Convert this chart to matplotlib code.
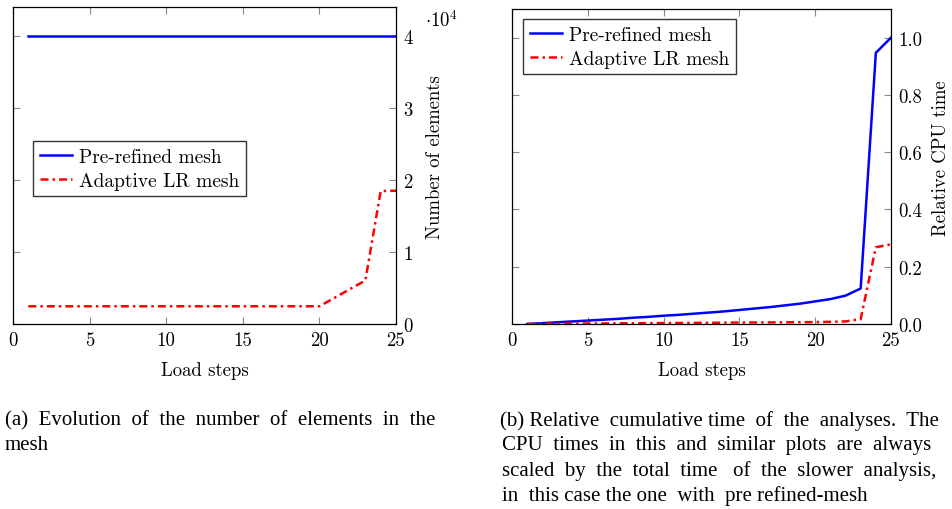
import matplotlib
matplotlib.use('Agg')
import matplotlib.pyplot as plt
from matplotlib.ticker import FixedLocator, FixedFormatter

plt.rcParams.update({'font.family': 'serif'})
plt.rcParams.update({'font.serif': ['cmr10', 'DejaVu Serif']})
plt.rcParams.update({'mathtext.fontset': 'cm'})
plt.rcParams.update({'axes.formatter.use_mathtext': True})
plt.rcParams.update({'font.size': 13.5})

# load steps
steps = list(range(1, 26))

# (a) number of elements
elems_prerefined = [40000] * 25
elems_adaptive = [2460] * 20 + [3650, 4850, 6040, 18450, 18500]

# (b) relative cumulative CPU time
cpu_prerefined = [0.000, 0.003, 0.006, 0.009, 0.012, 0.015, 0.018, 0.022, 0.025, 0.029,
                  0.032, 0.036, 0.040, 0.044, 0.049, 0.054, 0.059, 0.065, 0.071, 0.079,
                  0.087, 0.099, 0.124, 0.947, 1.000]
cpu_adaptive = [0.000, 0.0005, 0.001, 0.0013, 0.0016, 0.002, 0.0023, 0.0026, 0.003, 0.0033,
                0.0036, 0.004, 0.0043, 0.0046, 0.005, 0.0053, 0.0056, 0.006, 0.0063, 0.0067,
                0.0075, 0.009, 0.017, 0.268, 0.278]

xticks = [0, 5, 10, 15, 20, 25]
elem_ticks = [0, 10000, 20000, 30000, 40000]
elem_ticklabels = ['0', '1', '2', '3', '4']
cpu_ticks = [0.0, 0.2, 0.4, 0.6, 0.8, 1.0]
cpu_ticklabels = ['0.0', '0.2', '0.4', '0.6', '0.8', '1.0']

W, H = 953, 510
fig = plt.figure(figsize=(W / 100, H / 100), dpi=100)


def frac(x0, y0, x1, y1):
    return [x0 / W, 1 - y1 / H, (x1 - x0) / W, (y1 - y0) / H]


def style_axes(ax):
    ax.yaxis.tick_right()
    ax.yaxis.set_label_position('right')
    ax.tick_params(direction='in', length=5, width=0.8, color='#888888',
                   top=True, bottom=True, left=True, right=True,
                   labelleft=False, labelright=True, labelsize=13.5, pad=5)
    for s in ax.spines.values():
        s.set_linewidth(0.9)


dashdot = (0, (3.2, 1.6, 1, 1.6))
leg_kw = dict(frameon=True, fancybox=False, edgecolor='#333333', framealpha=1,
              fontsize=14, handlelength=1.65, borderpad=0.35, labelspacing=0.3,
              handletextpad=0.35, borderaxespad=0)

ax1 = fig.add_axes(frac(13, 8, 396, 325))
ax1.plot(steps, elems_prerefined, color='blue', lw=1.8, label='Pre-refined mesh')
ax1.plot(steps, elems_adaptive, color='red', lw=1.8, ls=dashdot, label='Adaptive LR mesh')
ax1.set_xlim(0, 25)
ax1.set_ylim(0, 44000)
ax1.xaxis.set_major_locator(FixedLocator(xticks))
ax1.xaxis.set_major_formatter(FixedFormatter([str(t) for t in xticks]))
ax1.yaxis.set_major_locator(FixedLocator(elem_ticks))
ax1.yaxis.set_major_formatter(FixedFormatter(elem_ticklabels))
style_axes(ax1)
ax1.set_xlabel('Load steps', labelpad=9)
ax1.set_ylabel('Number of elements', labelpad=10)
ax1.yaxis.set_label_coords(1.078, 0.53)
fig.text(425 / W, 1 - 27 / H, r'$\cdot 10^4$', fontsize=13.5, ha='left', va='baseline')
ax1.legend(loc='upper left', bbox_to_anchor=((33 - 13) / 383, (325 - 142) / 317), **leg_kw)

ax2 = fig.add_axes(frac(512, 10, 891, 325))
ax2.plot(steps, cpu_prerefined, color='blue', lw=1.8, label='Pre-refined mesh')
ax2.plot(steps, cpu_adaptive, color='red', lw=1.8, ls=dashdot, label='Adaptive LR mesh')
ax2.set_xlim(0, 25)
ax2.set_ylim(0, 1.1)
ax2.xaxis.set_major_locator(FixedLocator(xticks))
ax2.xaxis.set_major_formatter(FixedFormatter([str(t) for t in xticks]))
ax2.yaxis.set_major_locator(FixedLocator(cpu_ticks))
ax2.yaxis.set_major_formatter(FixedFormatter(cpu_ticklabels))
style_axes(ax2)
ax2.set_xlabel('Load steps', labelpad=9)
ax2.set_ylabel('Relative CPU time', labelpad=10)
ax2.yaxis.set_label_coords(1.108, 0.53)
ax2.legend(loc='upper left', bbox_to_anchor=((523 - 512) / 379, (325 - 20) / 315), **leg_kw)

cap_a = ['(a)  Evolution  of  the  number  of  elements  in  the', 'mesh']
cap_b = ['(b) Relative  cumulative time  of  the  analyses.  The',
         'CPU  times  in  this  and  similar  plots  are  always',
         'scaled  by  the  total  time   of  the  slower  analysis,',
         'in  this case the one  with  pre refined-mesh']
cap_font = ['Liberation Serif', 'DejaVu Serif']
for i, line in enumerate(cap_a):
    fig.text(5 / W, 1 - (421 + 25 * i) / H, line, fontsize=15, va='center', ha='left',
             family=cap_font)
for i, line in enumerate(cap_b):
    fig.text((500 if i == 0 else 502) / W, 1 - (421 + 25 * i) / H, line, fontsize=15,
             va='center', ha='left', family=cap_font)

fig.savefig('out.png', dpi=100)
